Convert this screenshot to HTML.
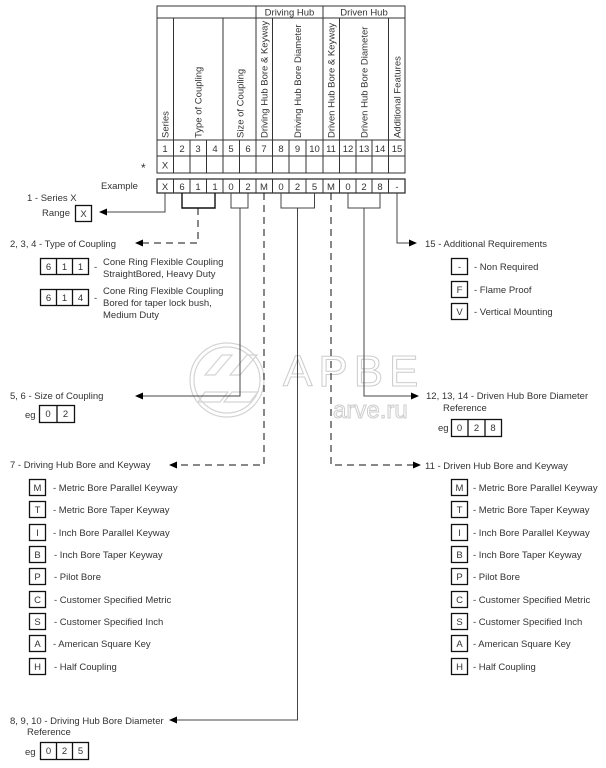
<!DOCTYPE html>
<html><head><meta charset="utf-8"><style>
html,body{margin:0;padding:0;background:#fff;}
svg{display:block;}
text{font-family:"Liberation Sans",Arial,sans-serif;font-size:9.5px;fill:#333;}
.c{text-anchor:middle;}
</style></head><body>
<svg width="606" height="768" viewBox="0 0 606 768" xmlns="http://www.w3.org/2000/svg">
<defs>
<marker id="a" markerWidth="8" markerHeight="8" refX="7" refY="4" orient="auto" markerUnits="userSpaceOnUse">
<path d="M0,0.5 L8,4 L0,7.5 Z" fill="#000"/></marker>
</defs>
<!-- watermark -->
<g fill="none" stroke="#d4d4d4" stroke-width="1.2">
<circle cx="227" cy="380" r="37"/>
<circle cx="227" cy="380" r="33"/>
<path d="M205,375 L222,355 L232,355 L215,375 Z M205,392 L228,392 L220,402 L198,402 Z M230,375 L247,355 L257,355 L240,375 Z M232,392 L258,392 L250,402 L224,402 Z"/>
</g>
<text x="283" y="386" style="font-size:44px;fill:#fff;stroke:#ccc;stroke-width:1;letter-spacing:6px">APBE</text>
<text x="333" y="418" style="font-size:24px;fill:#fff;stroke:#ccc;stroke-width:1">arve.ru</text>

<!-- table -->
<g stroke="#333" stroke-width="1" fill="none">
<rect x="157" y="6" width="248" height="167"/>
<line x1="157" y1="18" x2="405" y2="18"/>
<line x1="157" y1="140" x2="405" y2="140"/>
<line x1="157" y1="156" x2="405" y2="156"/>
<line x1="256" y1="6" x2="256" y2="18"/>
<line x1="323" y1="6" x2="323" y2="18"/>
<line x1="173.5" y1="18" x2="173.5" y2="173"/>
<line x1="223" y1="18" x2="223" y2="173"/>
<line x1="256" y1="18" x2="256" y2="173"/>
<line x1="272.5" y1="18" x2="272.5" y2="173"/>
<line x1="323" y1="18" x2="323" y2="173"/>
<line x1="339.5" y1="18" x2="339.5" y2="173"/>
<line x1="388.5" y1="18" x2="388.5" y2="173"/>
<line x1="190" y1="140" x2="190" y2="173"/>
<line x1="206.5" y1="140" x2="206.5" y2="173"/>
<line x1="239.5" y1="140" x2="239.5" y2="173"/>
<line x1="289" y1="140" x2="289" y2="173"/>
<line x1="306" y1="140" x2="306" y2="173"/>
<line x1="356" y1="140" x2="356" y2="173"/>
<line x1="372" y1="140" x2="372" y2="173"/>
<!-- example row -->
<rect x="157" y="179" width="248" height="14" stroke-width="1.3"/>
<line x1="173.5" y1="179" x2="173.5" y2="193"/><line x1="190" y1="179" x2="190" y2="193"/>
<line x1="206.5" y1="179" x2="206.5" y2="193"/><line x1="223" y1="179" x2="223" y2="193"/>
<line x1="239.5" y1="179" x2="239.5" y2="193"/><line x1="256" y1="179" x2="256" y2="193"/>
<line x1="272.5" y1="179" x2="272.5" y2="193"/><line x1="289" y1="179" x2="289" y2="193"/>
<line x1="306" y1="179" x2="306" y2="193"/><line x1="323" y1="179" x2="323" y2="193"/>
<line x1="339.5" y1="179" x2="339.5" y2="193"/><line x1="356" y1="179" x2="356" y2="193"/>
<line x1="372" y1="179" x2="372" y2="193"/><line x1="388.5" y1="179" x2="388.5" y2="193"/>
</g>
<text x="289.5" y="15.5" class="c">Driving Hub</text>
<text x="364" y="15.5" class="c">Driven Hub</text>
<g>
<text transform="translate(168.5,138) rotate(-90)">Series</text>
<text transform="translate(201.5,138) rotate(-90)">Type of Coupling</text>
<text transform="translate(243.5,138) rotate(-90)">Size of Coupling</text>
<text transform="translate(267.5,138) rotate(-90)">Driving Hub Bore &amp; Keyway</text>
<text transform="translate(301,138) rotate(-90)">Driving Hub Bore Diameter</text>
<text transform="translate(334.5,138) rotate(-90)">Driven Hub Bore &amp; Keyway</text>
<text transform="translate(367.5,138) rotate(-90)">Driven Hub Bore Diameter</text>
<text transform="translate(400.5,138) rotate(-90)">Additional Features</text>
</g>
<g class="c">
<text x="165" y="152" class="c">1</text><text x="182" y="152" class="c">2</text><text x="198" y="152" class="c">3</text>
<text x="215" y="152" class="c">4</text><text x="231" y="152" class="c">5</text><text x="248" y="152" class="c">6</text>
<text x="264" y="152" class="c">7</text><text x="281" y="152" class="c">8</text><text x="297.5" y="152" class="c">9</text>
<text x="314.5" y="152" class="c">10</text><text x="331" y="152" class="c">11</text><text x="348" y="152" class="c">12</text>
<text x="364" y="152" class="c">13</text><text x="380" y="152" class="c">14</text><text x="397" y="152" class="c">15</text>
<text x="165" y="168.5" class="c">X</text>
<text x="165" y="190" class="c">X</text><text x="182" y="190" class="c">6</text><text x="198" y="190" class="c">1</text>
<text x="215" y="190" class="c">1</text><text x="231" y="190" class="c">0</text><text x="248" y="190" class="c">2</text>
<text x="264" y="190" class="c">M</text><text x="281" y="190" class="c">0</text><text x="297.5" y="190" class="c">2</text>
<text x="314.5" y="190" class="c">5</text><text x="331" y="190" class="c">M</text><text x="348" y="190" class="c">0</text>
<text x="364" y="190" class="c">2</text><text x="380" y="190" class="c">8</text><text x="397" y="190" class="c">-</text>
</g>
<text x="141" y="172" style="font-size:12px">*</text>
<text x="101" y="189">Example</text>

<!-- connectors -->
<g stroke="#444" stroke-width="1" fill="none">
<polyline points="165,193 165,212 100,212" marker-end="url(#a)"/>
<polyline points="182,193 182,208 215,208 215,193" stroke="#111" stroke-width="1.4"/>
<polyline points="198,208 198,243 136,243" stroke-dasharray="7,5" marker-end="url(#a)" stroke="#111"/>
<polyline points="231,193 231,208 248,208 248,193"/>
<polyline points="240,208 240,396 136,396" marker-end="url(#a)"/>
<polyline points="264,193 264,465 170,465" stroke-dasharray="7,5" marker-end="url(#a)" stroke="#111"/>
<polyline points="281,193 281,208 314.5,208 314.5,193"/>
<polyline points="297.5,208 297.5,720 170,720" marker-end="url(#a)"/>
<polyline points="331,193 331,465 420,465" stroke-dasharray="7,5" marker-end="url(#a)" stroke="#111"/>
<polyline points="348,193 348,208 380,208 380,193"/>
<polyline points="364,208 364,396 418,396" marker-end="url(#a)"/>
<polyline points="397,193 397,243 416,243" marker-end="url(#a)"/>
</g>

<!-- left labels -->
<text x="27" y="201">1 -  Series X</text>
<text x="42" y="216">Range</text>
<rect x="75.5" y="205.5" width="16" height="16" fill="none" stroke="#111" stroke-width="1.3"/>
<text x="83.5" y="217" class="c">X</text>

<text x="10" y="247">2, 3, 4 - Type of Coupling</text>
<g fill="none" stroke="#111" stroke-width="1.3">
<rect x="40.5" y="258.5" width="48" height="16"/><line x1="56.5" y1="258.5" x2="56.5" y2="274.5"/><line x1="72.5" y1="258.5" x2="72.5" y2="274.5"/>
<rect x="40.5" y="289.5" width="48" height="16"/><line x1="56.5" y1="289.5" x2="56.5" y2="305.5"/><line x1="72.5" y1="289.5" x2="72.5" y2="305.5"/>
</g>
<text x="48.5" y="270" class="c">6</text><text x="64.5" y="270" class="c">1</text><text x="80.5" y="270" class="c">1</text>
<text x="48.5" y="301" class="c">6</text><text x="64.5" y="301" class="c">1</text><text x="80.5" y="301" class="c">4</text>
<text x="94" y="270">-</text><text x="103" y="265">Cone  Ring Flexible Coupling</text><text x="103" y="277">StraightBored, Heavy Duty</text>
<text x="94" y="301">-</text><text x="103" y="294">Cone  Ring Flexible Coupling</text><text x="103" y="306">Bored for taper lock bush,</text><text x="103" y="318">Medium Duty</text>

<text x="10" y="399">5, 6 - Size of Coupling</text>
<text x="25" y="418">eg</text>
<g fill="none" stroke="#111" stroke-width="1.3"><rect x="39.5" y="405.5" width="35" height="17"/><line x1="57" y1="405.5" x2="57" y2="422.5"/></g>
<text x="48" y="417" class="c">0</text><text x="65.5" y="417" class="c">2</text>

<text x="10" y="468">7 - Driving Hub Bore and Keyway</text>
<g fill="none" stroke="#111" stroke-width="1.3">
<rect x="29.5" y="479.5" width="16" height="16"/><rect x="29.5" y="501.5" width="16" height="16"/><rect x="29.5" y="524.5" width="16" height="16"/>
<rect x="29.5" y="546.5" width="16" height="16"/><rect x="29.5" y="568.5" width="16" height="16"/><rect x="29.5" y="591.5" width="16" height="16"/>
<rect x="29.5" y="613.5" width="16" height="16"/><rect x="29.5" y="635.5" width="16" height="16"/><rect x="29.5" y="658.5" width="16" height="16"/>
</g>
<g>
<text x="37.5" y="491" class="c">M</text><text x="37.5" y="513" class="c">T</text><text x="37.5" y="536" class="c">I</text>
<text x="37.5" y="558" class="c">B</text><text x="37.5" y="580" class="c">P</text><text x="37.5" y="603" class="c">C</text>
<text x="37.5" y="625" class="c">S</text><text x="37.5" y="647" class="c">A</text><text x="37.5" y="670" class="c">H</text>
<text x="53" y="491">-  Metric Bore Parallel Keyway</text>
<text x="53" y="513">-  Metric Bore Taper Keyway</text>
<text x="53" y="536">-  Inch Bore Parallel Keyway</text>
<text x="54" y="558">-  Inch Bore Taper Keyway</text>
<text x="54" y="580">-  Pilot Bore</text>
<text x="54" y="603">-  Customer Specified Metric</text>
<text x="54" y="625">-  Customer Specified Inch</text>
<text x="53" y="647">-  American Square Key</text>
<text x="54" y="670">-  Half Coupling</text>
</g>

<text x="10" y="724">8, 9, 10 - Driving Hub Bore Diameter</text>
<text x="27" y="735">Reference</text>
<text x="25" y="755">eg</text>
<g fill="none" stroke="#111" stroke-width="1.3"><rect x="40.5" y="742.5" width="48" height="17"/><line x1="56.5" y1="742.5" x2="56.5" y2="759.5"/><line x1="72.5" y1="742.5" x2="72.5" y2="759.5"/></g>
<text x="48.5" y="754" class="c">0</text><text x="64.5" y="754" class="c">2</text><text x="80.5" y="754" class="c">5</text>

<!-- right labels -->
<text x="425" y="247">15 - Additional Requirements</text>
<g fill="none" stroke="#111" stroke-width="1.3">
<rect x="451.5" y="258.5" width="16" height="16"/><rect x="451.5" y="281.5" width="16" height="16"/><rect x="451.5" y="303.5" width="16" height="16"/>
</g>
<text x="459.5" y="270" class="c">-</text><text x="459.5" y="293" class="c">F</text><text x="459.5" y="315" class="c">V</text>
<text x="474" y="270">-  Non Required</text><text x="474" y="293">-  Flame Proof</text><text x="474" y="315">-  Vertical Mounting</text>

<text x="426" y="399">12, 13, 14 - Driven Hub Bore Diameter</text>
<text x="443" y="411">Reference</text>
<text x="438" y="431">eg</text>
<g fill="none" stroke="#111" stroke-width="1.3"><rect x="451.5" y="419.5" width="50" height="17"/><line x1="468" y1="419.5" x2="468" y2="436.5"/><line x1="485" y1="419.5" x2="485" y2="436.5"/></g>
<text x="459.5" y="431" class="c">0</text><text x="476.5" y="431" class="c">2</text><text x="493" y="431" class="c">8</text>

<text x="425" y="469">11 - Driven Hub Bore and Keyway</text>
<g fill="none" stroke="#111" stroke-width="1.3">
<rect x="451.5" y="479.5" width="16" height="16"/><rect x="451.5" y="501.5" width="16" height="16"/><rect x="451.5" y="524.5" width="16" height="16"/>
<rect x="451.5" y="546.5" width="16" height="16"/><rect x="451.5" y="568.5" width="16" height="16"/><rect x="451.5" y="591.5" width="16" height="16"/>
<rect x="451.5" y="613.5" width="16" height="16"/><rect x="451.5" y="635.5" width="16" height="16"/><rect x="451.5" y="658.5" width="16" height="16"/>
</g>
<g>
<text x="459.5" y="491" class="c">M</text><text x="459.5" y="513" class="c">T</text><text x="459.5" y="536" class="c">I</text>
<text x="459.5" y="558" class="c">B</text><text x="459.5" y="580" class="c">P</text><text x="459.5" y="603" class="c">C</text>
<text x="459.5" y="625" class="c">S</text><text x="459.5" y="647" class="c">A</text><text x="459.5" y="670" class="c">H</text>
<text x="473" y="491">-  Metric Bore Parallel Keyway</text>
<text x="473" y="513">-  Metric Bore Taper Keyway</text>
<text x="473" y="536">-  Inch Bore Parallel Keyway</text>
<text x="473" y="558">-  Inch Bore Taper Keyway</text>
<text x="473" y="580">-  Pilot Bore</text>
<text x="473" y="603">-  Customer Specified Metric</text>
<text x="473" y="625">-  Customer Specified Inch</text>
<text x="473" y="647">-  American Square Key</text>
<text x="473" y="670">-  Half Coupling</text>
</g>
</svg>
</body></html>
